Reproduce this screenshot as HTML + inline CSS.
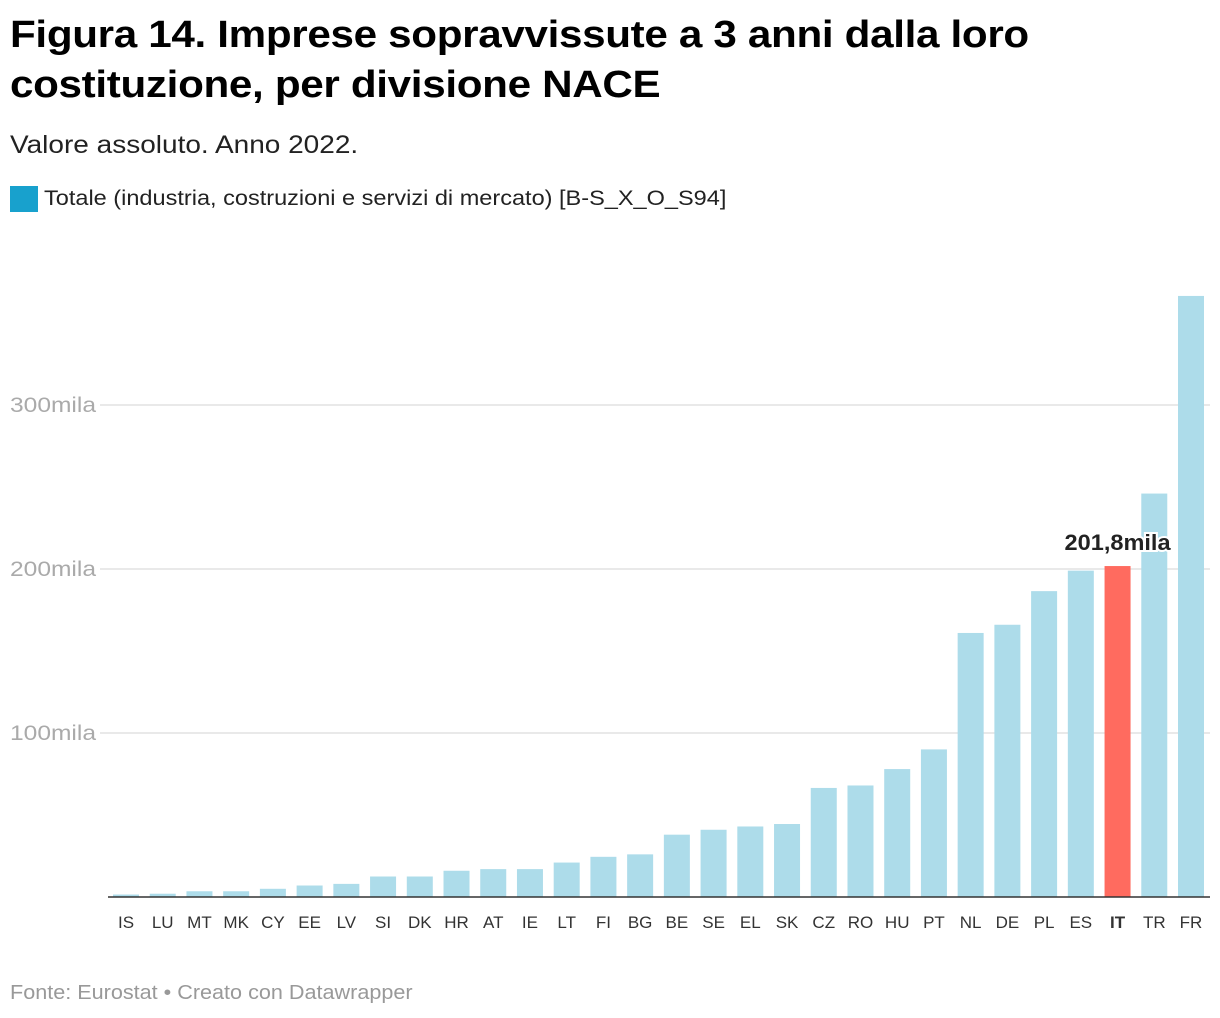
<!DOCTYPE html>
<html><head><meta charset="utf-8"><style>
body{margin:0;background:#fff;font-family:"Liberation Sans",Arial,sans-serif;}
#wrap{position:relative;width:1220px;height:1018px;}
h1{position:absolute;left:10px;top:10px;margin:0;font-size:38px;line-height:50px;font-weight:bold;color:#000;letter-spacing:-0.3px;transform:scaleX(1.11);transform-origin:left top;white-space:nowrap;}
.sub{position:absolute;left:10px;top:131px;font-size:25px;color:#222;transform:scaleX(1.12);transform-origin:left top;white-space:nowrap;}
.leg{position:absolute;left:10px;top:186px;font-size:21px;color:#222;display:flex;align-items:center;white-space:nowrap;}
.legt{display:inline-block;transform:scaleX(1.12);transform-origin:left center;}
.sw{width:28px;height:26px;background:#18a1cd;margin-right:6px;display:inline-block;}
.src{position:absolute;left:10px;top:982px;font-size:20px;color:#999;transform:scaleX(1.08);transform-origin:left top;white-space:nowrap;}
</style></head><body>
<div id="wrap">
<h1>Figura 14. Imprese sopravvissute a 3 anni dalla loro<br>costituzione, per divisione NACE</h1>
<div class="sub">Valore assoluto. Anno 2022.</div>
<div class="leg"><span class="sw"></span><span class="legt">Totale (industria, costruzioni e servizi di mercato) [B-S_X_O_S94]</span></div>
<svg id="chart" width="1220" height="1018" style="position:absolute;left:0;top:0"></svg>
<div class="src">Fonte: Eurostat • Creato con Datawrapper</div>
</div>
<script>
const categories=["IS","LU","MT","MK","CY","EE","LV","SI","DK","HR","AT","IE","LT","FI","BG","BE","SE","EL","SK","CZ","RO","HU","PT","NL","DE","PL","ES","IT","TR","FR"];
const values=[1.5,2,3.5,3.5,5,7,8,12.5,12.5,16,17,17,21,24.5,26,38,41,43,44.5,66.5,68,78,90,161,166,186.5,199,201.8,246,366.5];
const tickValues=[100,200,300];
const tickLabels=["100mila","200mila","300mila"];
const highlight="IT";
const highlightLabel="201,8mila";
const NS="http://www.w3.org/2000/svg";
const svg=document.getElementById('chart');
const y0=897,pxPer=1.64;
const yScale=v=>y0-v*pxPer;
const x0=126,step=(1191-126)/(categories.length-1);
const xScale=i=>x0+i*step;
const bw=26;
function mk(t,a){const e=document.createElementNS(NS,t);for(const k in a)e.setAttribute(k,a[k]);svg.appendChild(e);return e;}
tickValues.forEach((v,i)=>{
  const l=mk('line',{x1:10,x2:1210,y1:yScale(v),y2:yScale(v),stroke:'#e2e2e2','stroke-width':1.5});
  
  
  const bg=mk('rect',{x:8,y:yScale(v)-14,width:92,height:28,fill:'#fff'});
  
  
  const t=mk('text',{x:10,y:yScale(v)+7,'font-size':21,fill:'#aaa','font-family':'Liberation Sans, sans-serif',textLength:86,lengthAdjust:'spacingAndGlyphs'});
  t.textContent=tickLabels[i];
  
  
});
categories.forEach((c,i)=>{
  const hl=c===highlight;
  const r=mk('rect',{x:xScale(i)-bw/2,y:yScale(values[i]),width:bw,height:values[i]*pxPer,fill:hl?'#ff6b5f':'#addcea'});
  
  
  const t=mk('text',{x:xScale(i),y:928,'font-size':17,fill:'#333','text-anchor':'middle','font-weight':hl?'bold':'normal'});
  t.textContent=c;
  
  
});
categories.forEach((c,i)=>{
  if(c!==highlight)return;
  const lb=mk('text',{x:xScale(i),y:yScale(values[i])-16,'font-size':22,'font-weight':'bold',fill:'#222','text-anchor':'middle',stroke:'#fff','stroke-width':4,'paint-order':'stroke',textLength:106,lengthAdjust:'spacingAndGlyphs'});
  lb.textContent=highlightLabel;
  
  
});
const ax=mk('line',{x1:108,x2:1210,y1:y0,y2:y0,stroke:'#333','stroke-width':1.5});


</script>
</body></html>
